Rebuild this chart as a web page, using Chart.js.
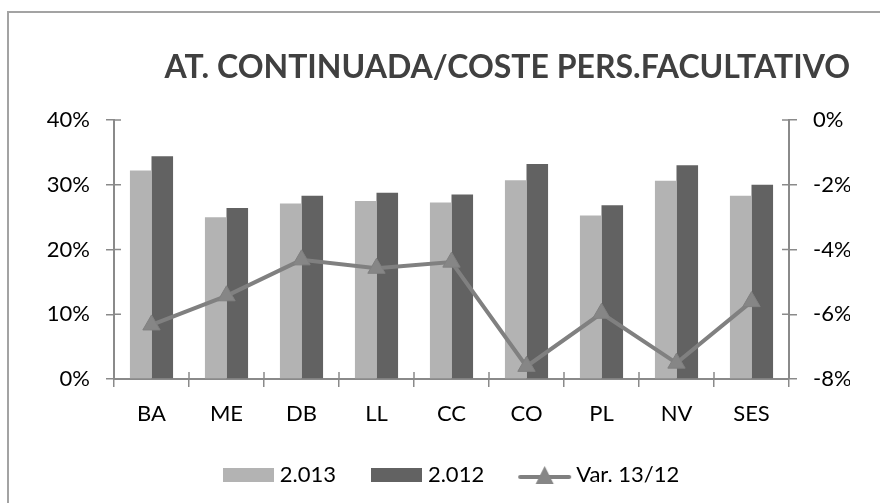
<!DOCTYPE html>
<html lang="es">
<head>
  <meta charset="UTF-8">
  <title>AT. CONTINUADA/COSTE PERS.FACULTATIVO</title>
  <script src="https://cdn.jsdelivr.net/npm/chart.js"></script>
  <style>
    html, body {
      margin: 0;
      padding: 0;
      background: #fff;
    }

    .frame {
      position: relative;
      width: 880px;
      height: 503px;
      overflow: hidden;
    }

    /* marco del gráfico: sólo se ven los bordes superior e izquierdo */
    .frame::before {
      content: '';
      position: absolute;
      left: 7px;
      top: 11px;
      width: 2000px;
      height: 2000px;
      border-left: 2px solid #a3a3a3;
      border-top: 2px solid #a3a3a3;
    }

    canvas {
      position: absolute;
      left: 0;
      top: 0;
    }
  </style>
</head>
<body>

  <div class="frame">
    <canvas id="grafico" width="880" height="503"></canvas>
  </div>

  <script>
    const categorias = ['BA', 'ME', 'DB', 'LL', 'CC', 'CO', 'PL', 'NV', 'SES'];
    const valores2013 = [32.2, 25.0, 27.1, 27.5, 27.25, 30.7, 25.25, 30.6, 28.3];
    const valores2012 = [34.4, 26.4, 28.3, 28.75, 28.5, 33.2, 26.85, 33.0, 30.0];
    const variacion = [-6.33, -5.43, -4.32, -4.58, -4.39, -7.61, -5.97, -7.51, -5.61];
    const ticksIzq = [0, 10, 20, 30, 40];
    const ticksDer = [-8, -6, -4, -2, 0];

    const gris = '#8a8a8a';
    const fuente = 'Lato';

    // muestras de la leyenda
    function muestra(w, h, dibujar) {
      const c = document.createElement('canvas');
      c.width = w;
      c.height = h;
      dibujar(c.getContext('2d'), w, h);
      return c;
    }

    const muestraClara = muestra(51, 14, (ctx, w, h) => {
      ctx.fillStyle = '#b3b3b3';
      ctx.fillRect(0, 0, w, h);
    });
    const muestraOscura = muestra(51, 14, (ctx, w, h) => {
      ctx.fillStyle = '#626262';
      ctx.fillRect(0, 0, w, h);
    });
    const muestraLinea = muestra(55, 20, (ctx, w, h) => {
      ctx.strokeStyle = '#808080';
      ctx.lineWidth = 4;
      ctx.lineCap = 'round';
      ctx.beginPath();
      ctx.moveTo(3, h / 2 + 2);
      ctx.lineTo(w - 3, h / 2 + 2);
      ctx.stroke();
      ctx.fillStyle = '#868686';
      ctx.beginPath();
      ctx.moveTo(w / 2, 1);
      ctx.lineTo(w / 2 + 9, h - 1);
      ctx.lineTo(w / 2 - 9, h - 1);
      ctx.closePath();
      ctx.fill();
    });
    const muestras = [muestraClara, muestraOscura, muestraLinea];

    // marcas de los ejes hacia dentro (en Excel cruzan el eje)
    const marcasInternas = {
      id: 'marcasInternas',
      beforeDatasetsDraw(chart) {
        const { ctx, scales } = chart;
        const x = scales.x, y = scales.y, y1 = scales.y1;
        ctx.save();
        ctx.strokeStyle = gris;
        ctx.lineWidth = 1.5;
        ctx.beginPath();
        for (let i = 0; i <= categorias.length; i++) {
          const px = x.getPixelForValue(i - 0.5);
          ctx.moveTo(px, x.top);
          ctx.lineTo(px, x.top - 7);
        }
        y.ticks.forEach(t => {
          const py = y.getPixelForValue(t.value);
          ctx.moveTo(y.right, py);
          ctx.lineTo(y.right + 7, py);
        });
        y1.ticks.forEach(t => {
          const py = y1.getPixelForValue(t.value);
          ctx.moveTo(y1.left, py);
          ctx.lineTo(y1.left - 7, py);
        });
        ctx.stroke();
        ctx.restore();
      }
    };

    const ctx = document.getElementById('grafico').getContext('2d');

    new Chart(ctx, {
      data: {
        labels: categorias,
        datasets: [
          {
            type: 'bar',
            label: '2.013',
            data: valores2013,
            backgroundColor: '#b3b3b3',
            yAxisID: 'y',
            categoryPercentage: 0.575,
            barPercentage: 1.0
          },
          {
            type: 'bar',
            label: '2.012',
            data: valores2012,
            backgroundColor: '#626262',
            yAxisID: 'y',
            categoryPercentage: 0.575,
            barPercentage: 1.0
          },
          {
            type: 'line',
            label: 'Var. 13/12',
            data: variacion,
            yAxisID: 'y1',
            order: -1,
            borderColor: '#808080',
            borderWidth: 4,
            tension: 0,
            pointStyle: 'triangle',
            pointRadius: 10,
            pointHoverRadius: 10,
            pointBackgroundColor: '#868686',
            pointBorderColor: '#808080',
            pointBorderWidth: 1
          }
        ]
      },
      options: {
        responsive: false,
        animation: false,
        events: [],
        layout: {
          padding: { left: 57, right: 30, top: 0, bottom: 7 }
        },
        plugins: {
          tooltip: { enabled: false },
          title: {
            display: true,
            text: 'AT. CONTINUADA/COSTE PERS.FACULTATIVO',
            align: 'end',
            color: '#404040',
            font: { family: fuente, size: 32, weight: 'bold', lineHeight: 1.2 },
            padding: { top: 48, bottom: 33.6 }
          },
          legend: {
            position: 'bottom',
            labels: {
              usePointStyle: true,
              pointStyleWidth: 41,
              padding: 40,
              color: '#000',
              font: { family: fuente, size: 22 },
              sort: (a, b) => a.datasetIndex - b.datasetIndex,
              generateLabels(chart) {
                const items = Chart.defaults.plugins.legend.labels.generateLabels(chart);
                items.forEach(it => {
                  it.pointStyle = muestras[it.datasetIndex];
                  it.lineWidth = 0;
                });
                return items;
              }
            }
          }
        },
        scales: {
          x: {
            grid: {
              drawOnChartArea: false,
              drawTicks: true,
              tickLength: 8,
              color: gris,
              lineWidth: 1.5,
              offset: true
            },
            border: { display: true, color: gris, width: 2 },
            ticks: {
              padding: 14,
              color: '#000',
              font: { family: fuente, size: 22 }
            },
            afterFit(scale) { scale.height = 45; }
          },
          y: {
            position: 'left',
            min: 0,
            max: 40,
            grid: {
              drawOnChartArea: false,
              drawTicks: true,
              tickLength: 8,
              color: gris,
              lineWidth: 1.5
            },
            border: { display: true, color: gris, width: 2 },
            ticks: {
              padding: 16,
              color: '#000',
              font: { family: fuente, size: 22 },
              callback: v => v + '%'
            },
            afterBuildTicks(scale) { scale.ticks = ticksIzq.map(v => ({ value: v })); },
            afterFit(scale) {
              scale.width = 57;
              // las etiquetas sobresalen del hueco del eje: sin recorte
              scale._computeLabelArea = () => undefined;
            }
          },
          y1: {
            position: 'right',
            min: -8,
            max: 0,
            grid: {
              drawOnChartArea: false,
              drawTicks: true,
              tickLength: 8,
              color: gris,
              lineWidth: 1.5
            },
            border: { display: true, color: gris, width: 2 },
            ticks: {
              padding: 16,
              color: '#000',
              font: { family: fuente, size: 22 },
              callback: v => v + '%'
            },
            afterBuildTicks(scale) { scale.ticks = ticksDer.map(v => ({ value: v })); },
            afterFit(scale) { scale.width = 61; }
          }
        }
      },
      plugins: [marcasInternas]
    });
  </script>

</body>
</html>
